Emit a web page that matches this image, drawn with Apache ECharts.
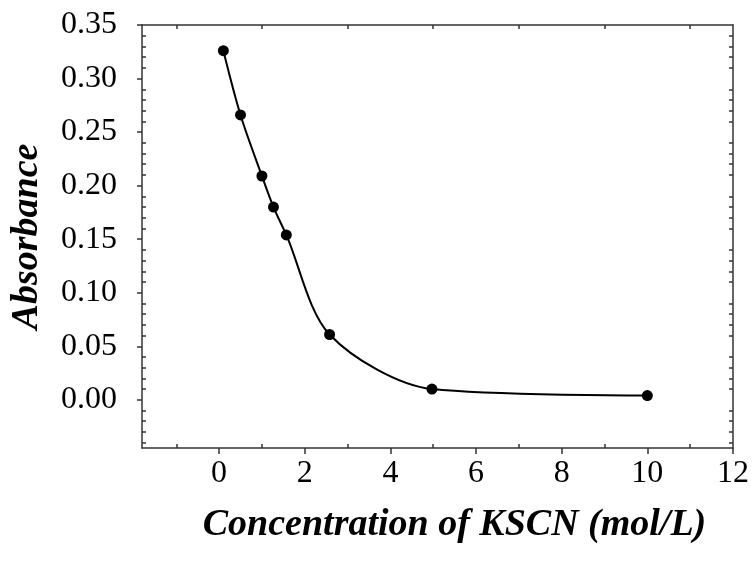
<!DOCTYPE html>
<html>
<head>
<meta charset="utf-8">
<script src="https://cdn.jsdelivr.net/npm/echarts@6/dist/echarts.min.js"></script>
<style>
  html, body { margin: 0; padding: 0; background: #fff; }
  #chart { width: 752px; height: 561px; }
</style>
</head>
<body>
<div id="chart"></div>
<script>
// KSCN concentration (mol/L)
const concentration = [0.1, 0.5, 1.0, 1.27, 1.57, 2.58, 4.97, 10.0];
// measured absorbance
const absorbance = [0.326, 0.266, 0.209, 0.180, 0.154, 0.061, 0.010, 0.004];

// tick labels
const xTicks = [0, 2, 4, 6, 8, 10, 12];
const yTicks = [0, 0.05, 0.1, 0.15, 0.2, 0.25, 0.3, 0.35];

const X_MIN = -1.8, X_MAX = 12;
const Y_MIN = -0.045, Y_MAX = 0.35;

// minor ticks: odd x values, y every 0.01 (not on major ticks)
const xMinor = [-1, 1, 3, 5, 7, 9, 11];
const yMinor = [];
for (let i = -4; i <= 35; i++) {
  if (i % 5 !== 0) yMinor.push(+(i / 100).toFixed(2));
}

const serif = "'Liberation Serif', 'Times New Roman', serif";
const axisColor = "#333";

const chart = echarts.init(document.getElementById("chart"));

const option = {
  animation: false,
  grid: { left: 142, right: 18, top: 25, bottom: 113 },

  xAxis: [
    {
      // bottom: major ticks + labels
      type: "value",
      min: X_MIN,
      max: X_MAX,
      position: "bottom",
      name: "Concentration of KSCN (mol/L)",
      nameLocation: "middle",
      nameGap: 58,
      nameTextStyle: {
        fontFamily: serif,
        fontSize: 38,
        fontWeight: "bold",
        fontStyle: "italic",
        color: "#000",
        padding: [0, 0, 0, 34],
      },
      axisLine: { show: true, onZero: false, lineStyle: { color: axisColor, width: 1.5 } },
      axisTick: { show: true, inside: false, length: 6, customValues: xTicks, lineStyle: { color: axisColor, width: 1.5 } },
      axisLabel: { customValues: xTicks, margin: 10, fontFamily: serif, fontSize: 32, color: "#000" },
      splitLine: { show: false },
    },
    {
      // bottom: minor ticks inside
      type: "value",
      min: X_MIN,
      max: X_MAX,
      position: "bottom",
      axisLine: { show: false, onZero: false },
      axisTick: { show: true, inside: true, length: 4, customValues: xMinor, lineStyle: { color: axisColor, width: 1.5 } },
      axisLabel: { show: false },
      splitLine: { show: false },
    },
    {
      // top border with minor ticks
      type: "value",
      min: X_MIN,
      max: X_MAX,
      position: "top",
      axisLine: { show: true, onZero: false, lineStyle: { color: axisColor, width: 1.5 } },
      axisTick: { show: true, inside: true, length: 4, customValues: xMinor, lineStyle: { color: axisColor, width: 1.5 } },
      axisLabel: { show: false },
      splitLine: { show: false },
    },
  ],

  yAxis: [
    {
      // left: major ticks + labels
      type: "value",
      min: Y_MIN,
      max: Y_MAX,
      position: "left",
      name: "Absorbance",
      nameLocation: "middle",
      nameGap: 96,
      nameTextStyle: {
        fontFamily: serif,
        fontSize: 38,
        fontWeight: "bold",
        fontStyle: "italic",
        color: "#000",
      },
      axisLine: { show: true, onZero: false, lineStyle: { color: axisColor, width: 1.5 } },
      axisTick: { show: true, inside: false, length: 5, customValues: yTicks, lineStyle: { color: axisColor, width: 1.5 } },
      axisLabel: {
        customValues: yTicks,
        margin: 25,
        fontFamily: serif,
        fontSize: 32,
        color: "#000",
        formatter: (v) => v.toFixed(2),
      },
      splitLine: { show: false },
    },
    {
      // left: minor ticks inside
      type: "value",
      min: Y_MIN,
      max: Y_MAX,
      position: "left",
      axisLine: { show: false, onZero: false },
      axisTick: { show: true, inside: true, length: 4, customValues: yMinor, lineStyle: { color: axisColor, width: 1.5 } },
      axisLabel: { show: false },
      splitLine: { show: false },
    },
    {
      // right border with minor ticks
      type: "value",
      min: Y_MIN,
      max: Y_MAX,
      position: "right",
      axisLine: { show: true, onZero: false, lineStyle: { color: axisColor, width: 1.5 } },
      axisTick: { show: true, inside: true, length: 4, customValues: yMinor, lineStyle: { color: axisColor, width: 1.5 } },
      axisLabel: { show: false },
      splitLine: { show: false },
    },
  ],

  series: [
    {
      type: "line",
      xAxisIndex: 0,
      yAxisIndex: 0,
      data: concentration.map((c, i) => [c, absorbance[i]]),
      smooth: 0.3,
      symbol: "circle",
      symbolSize: 11,
      itemStyle: { color: "#000" },
      lineStyle: { color: "#000", width: 2 },
    },
  ],
};

chart.setOption(option);
</script>
</body>
</html>
